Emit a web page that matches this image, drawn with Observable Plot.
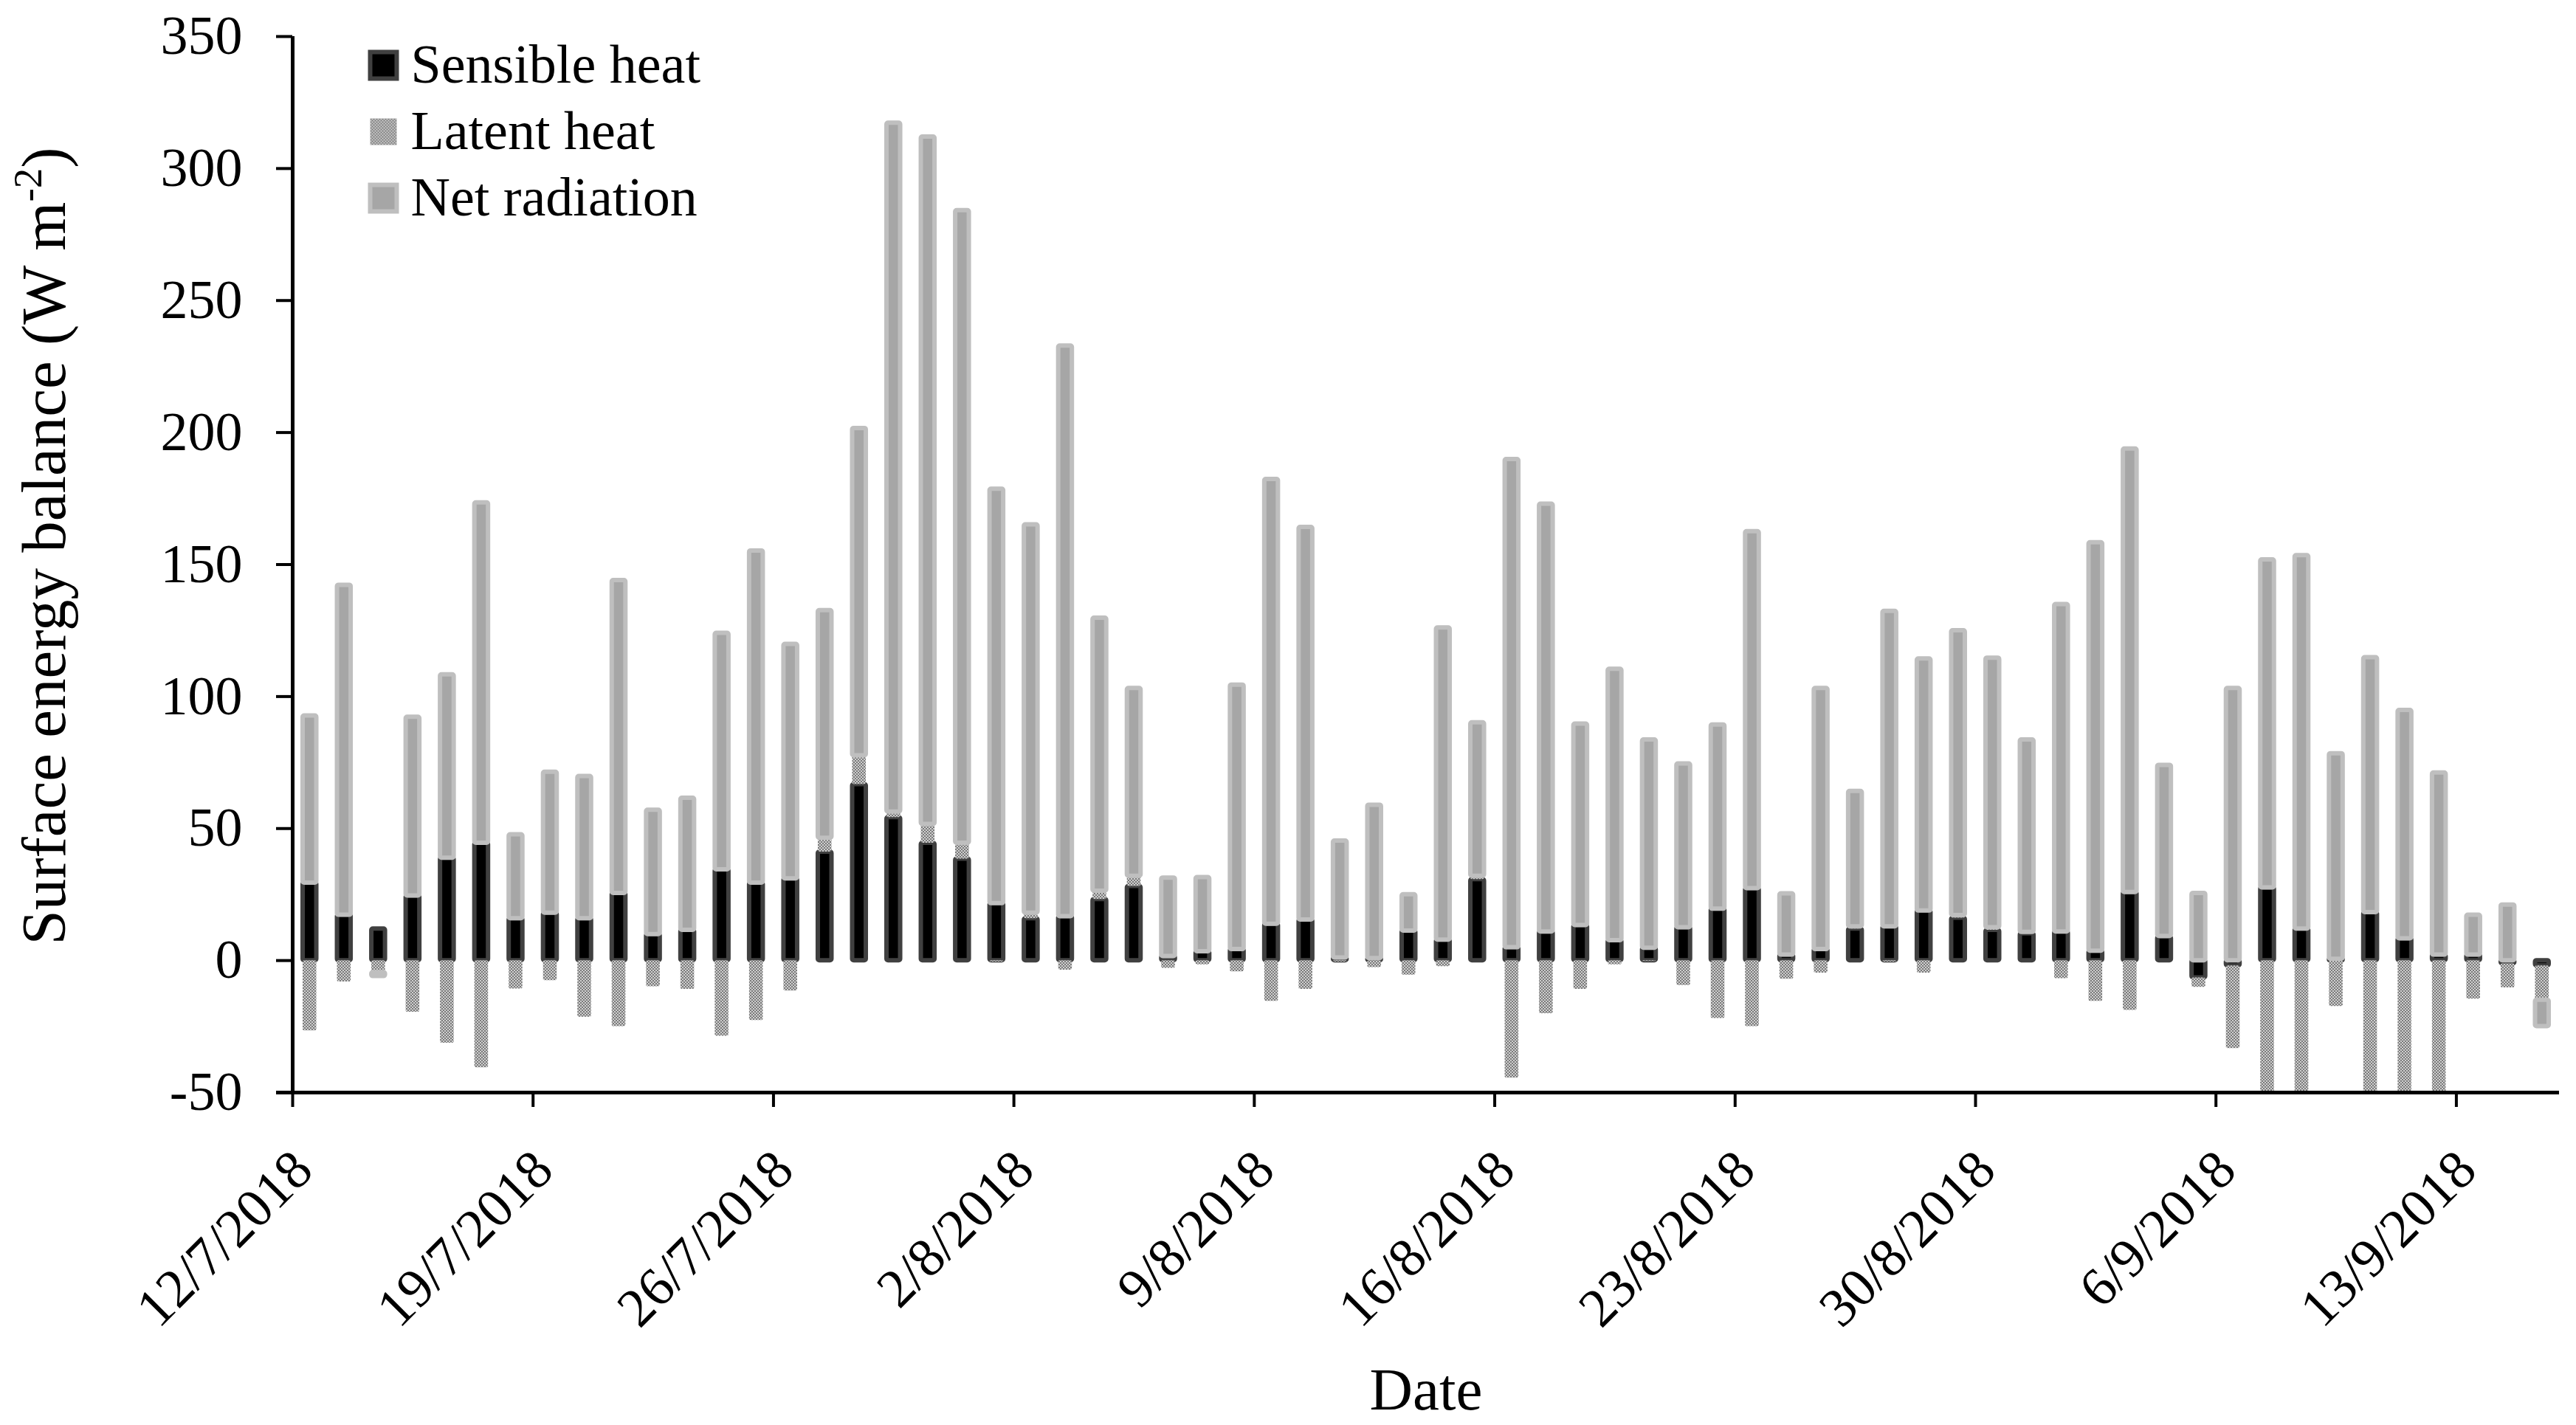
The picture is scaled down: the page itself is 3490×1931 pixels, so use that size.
<!DOCTYPE html>
<html>
<head>
<meta charset="utf-8">
<script src="https://cdn.jsdelivr.net/npm/d3@7"></script>
<script src="https://cdn.jsdelivr.net/npm/@observablehq/plot@0.6"></script>
<style>
  html, body { margin: 0; padding: 0; background: #ffffff; overflow: hidden; }
  #chart svg { display: block; }
</style>
</head>
<body>
<div id="chart"></div>
<script>
// ---- Data ----
const dates = [
  "2018-07-12","2018-07-13","2018-07-14","2018-07-15","2018-07-16","2018-07-17","2018-07-18","2018-07-19",
  "2018-07-20","2018-07-21","2018-07-22","2018-07-23","2018-07-24","2018-07-25","2018-07-26","2018-07-27",
  "2018-07-28","2018-07-29","2018-07-30","2018-07-31","2018-08-01","2018-08-02","2018-08-03","2018-08-04",
  "2018-08-05","2018-08-06","2018-08-07","2018-08-08","2018-08-09","2018-08-10","2018-08-11","2018-08-12",
  "2018-08-13","2018-08-14","2018-08-15","2018-08-16","2018-08-17","2018-08-18","2018-08-19","2018-08-20",
  "2018-08-21","2018-08-22","2018-08-23","2018-08-24","2018-08-25","2018-08-26","2018-08-27","2018-08-28",
  "2018-08-29","2018-08-30","2018-08-31","2018-09-01","2018-09-02","2018-09-03","2018-09-04","2018-09-05",
  "2018-09-06","2018-09-07","2018-09-08","2018-09-09","2018-09-10","2018-09-11","2018-09-12","2018-09-13",
  "2018-09-14","2018-09-15"
];
const sensibleHeat = [29.4,17.2,12.0,24.5,38.8,44.5,15.9,18.0,15.9,25.5,9.9,11.5,34.4,29.4,31.0,41.1,
  66.7,54.2,44.5,38.5,21.6,15.9,16.7,23.2,28.1,1.6,3.4,4.2,13.8,15.4,1.0,0.8,11.2,7.8,30.7,4.9,10.9,13.3,
  7.6,4.7,12.5,19.5,27.3,2.1,4.2,12.0,12.8,18.8,16.1,11.5,10.2,10.9,3.6,25.8,8.9,-6.5,-2.0,27.6,12.0,0.5,
  18.2,8.3,2.1,2.1,-1.2,-2.0];
const latentHeat = [-26.6,-8.1,-4.5,-19.5,-31.3,-40.6,-10.7,-7.6,-21.4,-25.0,-9.9,-10.9,-28.6,-22.7,-11.5,
  5.3,10.9,2.1,7.1,6.0,-0.5,2.1,-3.6,3.1,3.9,-2.9,-1.6,-4.2,-15.4,-10.9,-0.5,-2.6,-5.5,-2.3,1.3,-44.5,-20.1,
  -10.9,-1.6,-0.3,-9.4,-21.9,-25.0,-7.0,-4.7,0.8,-0.5,-4.7,1.0,1.0,0.5,-6.8,-15.4,-18.8,0.3,-3.6,-31.3,
  -62,-57,-17.4,-66,-59,-54,-14.6,-9.1,-13.0];
const netRadiation = [63.3,125.0,-1.5,67.7,69.5,128.9,31.8,53.4,53.9,118.5,47.1,50.0,89.6,125.8,88.8,86.2,
  124.0,260.9,260.4,239.6,157.0,147.1,216.1,103.4,71.1,29.7,28.1,100.2,168.5,148.7,44.3,58.1,13.8,118.2,
  58.1,184.9,162.0,76.3,102.8,78.9,62.0,69.8,135.2,23.2,98.9,51.3,119.5,95.5,107.9,102.1,72.9,124.0,154.7,
  168.0,64.8,25.5,103.1,124.2,141.4,77.9,96.6,86.5,69.0,15.1,21.1,-10.0];

const seriesNames = ["Sensible heat", "Latent heat", "Net radiation"];
const seriesFills = ["#000000", "url(#latentPattern)", "#a6a6a6"];
const seriesStrokes = ["#404040", "none", "#bfbfbf"];

const tickDates = ["2018-07-12","2018-07-19","2018-07-26","2018-08-02","2018-08-09",
  "2018-08-16","2018-08-23","2018-08-30","2018-09-06","2018-09-13"];
const tickLabels = ["12/7/2018","19/7/2018","26/7/2018","2/8/2018","9/8/2018",
  "16/8/2018","23/8/2018","30/8/2018","6/9/2018","13/9/2018"];
const yTicks = [-50, 0, 50, 100, 150, 200, 250, 300, 350];
const yDomain = [-50, 350];
const xDomainEnd = "2018-09-16";

const yTitle = "Surface energy balance (W m";
const yTitleSup = "-2";
const yTitleEnd = ")";
const xTitle = "Date";

// ---- Build table ----
const parse = d3.utcParse("%Y-%m-%d");
const seriesValues = [sensibleHeat, latentHeat, netRadiation];
const rows = [];
dates.forEach((d, i) => {
  const date = parse(d);
  seriesValues.forEach((arr, k) => rows.push({date, k, series: seriesNames[k], value: arr[i]}));
});
const xStart = parse(dates[0]);
const xEnd = parse(xDomainEnd);
const ticks = tickDates.map((d, i) => ({date: parse(d), label: tickLabels[i]}));

const FONT = "Liberation Serif";

const legendMarks = [];
seriesNames.forEach((name, i) => {
  legendMarks.push(Plot.dot([name], {
    frameAnchor: "top-left", dx: 123, dy: 39 + 90 * i,
    symbol: "square", r: 20.3,
    fill: seriesFills[i], stroke: seriesStrokes[i], strokeWidth: 6
  }));
  legendMarks.push(Plot.text([name], {
    frameAnchor: "top-left", dx: 160, dy: 39 + 90 * i,
    text: d => d, textAnchor: "start", lineAnchor: "middle",
    fontSize: 74, fill: "#000"
  }));
});

const svg = Plot.plot({
  width: 3490,
  height: 1931,
  marginLeft: 396,
  marginRight: 23,
  marginTop: 49,
  marginBottom: 451,
  style: {fontFamily: FONT, background: "#ffffff", color: "#000000", overflow: "visible"},
  x: {type: "utc", domain: [xStart, xEnd], axis: null},
  y: {domain: yDomain, axis: null},
  marks: [
    Plot.rectY(rows, {
      x: "date", interval: "day", y: "value", z: "k",
      fill: d => seriesFills[d.k], stroke: d => seriesStrokes[d.k],
      strokeWidth: 6, insetLeft: 14, insetRight: 14, rx: 2, clip: true
    }),
    // y axis line and ticks
    Plot.ruleX([xStart], {stroke: "#000", strokeWidth: 5, insetBottom: -2}),
    Plot.ruleY(yTicks, {x1: () => xStart, x2: () => xStart, insetLeft: -22, stroke: "#000", strokeWidth: 4}),
    Plot.text(yTicks, {y: d => d, frameAnchor: "left", dx: -68, text: d => String(d),
      textAnchor: "end", lineAnchor: "middle", fontSize: 74, fill: "#000"}),
    // x axis line and ticks
    Plot.ruleY([yDomain[0]], {stroke: "#000", strokeWidth: 5, insetLeft: -22}),
    Plot.ruleX(ticks, {x: "date", y1: () => yDomain[0], y2: () => yDomain[0], insetBottom: -20, stroke: "#000", strokeWidth: 4}),
    Plot.text(ticks, {x: "date", frameAnchor: "bottom", dx: 14, dy: 92, rotate: -45, text: "label",
      textAnchor: "end", lineAnchor: "middle", fontSize: 74, fill: "#000"}),
    Plot.text([xTitle], {frameAnchor: "bottom", dy: 404, text: d => d, lineAnchor: "middle", fontSize: 81, fill: "#000"}),
    ...legendMarks
  ]
});

// pattern for latent heat
const s = d3.select(svg);
const defs = s.insert("defs", ":first-child");
const pat = defs.append("pattern").attr("id", "latentPattern")
  .attr("patternUnits", "userSpaceOnUse").attr("width", 4).attr("height", 4);
pat.append("rect").attr("width", 4).attr("height", 4).attr("fill", "#cfcfcf");
pat.append("rect").attr("width", 2).attr("height", 2).attr("fill", "#7a7a7a");
pat.append("rect").attr("x", 2).attr("y", 2).attr("width", 2).attr("height", 2).attr("fill", "#7a7a7a");

// y axis title with superscript
const t = s.append("text")
  .attr("transform", "translate(88,740) rotate(-90)")
  .attr("text-anchor", "middle")
  .attr("font-family", FONT)
  .attr("font-size", 85)
  .attr("fill", "#000");
t.append("tspan").text(yTitle);
t.append("tspan").attr("font-size", 55).attr("dy", -32).text(yTitleSup);
t.append("tspan").attr("dy", 32).text(yTitleEnd);

document.getElementById("chart").appendChild(svg);
</script>
</body>
</html>
